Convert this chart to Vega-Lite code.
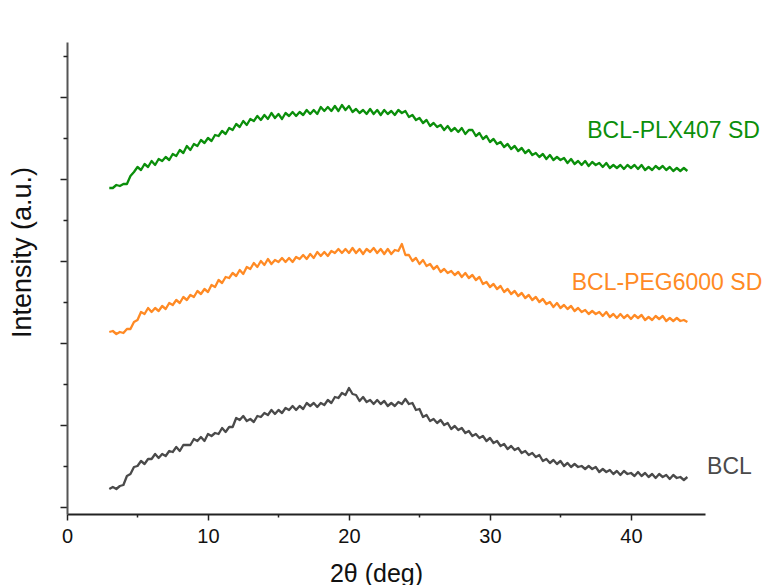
{
"$schema": "https://vega.github.io/schema/vega-lite/v6.json",
"width": 638,
"height": 472,
"autosize": "none",
"padding": {"left": 67, "top": 42, "right": 62, "bottom": 71},
"background": "white",
"config": {"view": {"stroke": null}, "font": "Liberation Sans", "axis": {"grid": false}},
"datasets": {
"labels": [
{"sample": "BCL-PLX407 SD", "theta": 36.9, "intensity": 383},
{"sample": "BCL-PEG6000 SD", "theta": 35.8, "intensity": 231},
{"sample": "BCL", "theta": 45.4, "intensity": 47}
],
"xrd": [
{"sample":"BCL","theta":3,"intensity":25},{"sample":"BCL","theta":3.25,"intensity":27},{"sample":"BCL","theta":3.5,"intensity":25},{"sample":"BCL","theta":3.75,"intensity":28},
{"sample":"BCL","theta":4,"intensity":29},{"sample":"BCL","theta":4.25,"intensity":38},{"sample":"BCL","theta":4.5,"intensity":40},{"sample":"BCL","theta":4.75,"intensity":47},
{"sample":"BCL","theta":5,"intensity":48},{"sample":"BCL","theta":5.25,"intensity":53},{"sample":"BCL","theta":5.5,"intensity":50},{"sample":"BCL","theta":5.75,"intensity":55},
{"sample":"BCL","theta":6,"intensity":55},{"sample":"BCL","theta":6.25,"intensity":60},{"sample":"BCL","theta":6.5,"intensity":56},{"sample":"BCL","theta":6.75,"intensity":60},
{"sample":"BCL","theta":7,"intensity":58},{"sample":"BCL","theta":7.25,"intensity":63},{"sample":"BCL","theta":7.5,"intensity":62},{"sample":"BCL","theta":7.75,"intensity":67},
{"sample":"BCL","theta":8,"intensity":63},{"sample":"BCL","theta":8.25,"intensity":69},{"sample":"BCL","theta":8.5,"intensity":69},{"sample":"BCL","theta":8.75,"intensity":69},
{"sample":"BCL","theta":9,"intensity":75},{"sample":"BCL","theta":9.25,"intensity":73},{"sample":"BCL","theta":9.5,"intensity":77},{"sample":"BCL","theta":9.75,"intensity":73},
{"sample":"BCL","theta":10,"intensity":80},{"sample":"BCL","theta":10.25,"intensity":78},{"sample":"BCL","theta":10.5,"intensity":81},{"sample":"BCL","theta":10.75,"intensity":80},
{"sample":"BCL","theta":11,"intensity":86},{"sample":"BCL","theta":11.25,"intensity":82},{"sample":"BCL","theta":11.5,"intensity":87},{"sample":"BCL","theta":11.75,"intensity":87},
{"sample":"BCL","theta":12,"intensity":96},{"sample":"BCL","theta":12.25,"intensity":94},{"sample":"BCL","theta":12.5,"intensity":98},{"sample":"BCL","theta":12.75,"intensity":93},
{"sample":"BCL","theta":13,"intensity":95},{"sample":"BCL","theta":13.25,"intensity":92},{"sample":"BCL","theta":13.5,"intensity":98},{"sample":"BCL","theta":13.75,"intensity":97},
{"sample":"BCL","theta":14,"intensity":101},{"sample":"BCL","theta":14.25,"intensity":99},{"sample":"BCL","theta":14.5,"intensity":104},{"sample":"BCL","theta":14.75,"intensity":100},
{"sample":"BCL","theta":15,"intensity":104},{"sample":"BCL","theta":15.25,"intensity":101},{"sample":"BCL","theta":15.5,"intensity":106},{"sample":"BCL","theta":15.75,"intensity":104},
{"sample":"BCL","theta":16,"intensity":108},{"sample":"BCL","theta":16.25,"intensity":104},{"sample":"BCL","theta":16.5,"intensity":108},{"sample":"BCL","theta":16.75,"intensity":105},
{"sample":"BCL","theta":17,"intensity":111},{"sample":"BCL","theta":17.25,"intensity":108},{"sample":"BCL","theta":17.5,"intensity":111},{"sample":"BCL","theta":17.75,"intensity":107},
{"sample":"BCL","theta":18,"intensity":111},{"sample":"BCL","theta":18.25,"intensity":109},{"sample":"BCL","theta":18.5,"intensity":114},{"sample":"BCL","theta":18.75,"intensity":111},
{"sample":"BCL","theta":19,"intensity":117},{"sample":"BCL","theta":19.25,"intensity":116},{"sample":"BCL","theta":19.5,"intensity":121},{"sample":"BCL","theta":19.75,"intensity":119},
{"sample":"BCL","theta":20,"intensity":126},{"sample":"BCL","theta":20.25,"intensity":120},{"sample":"BCL","theta":20.5,"intensity":119},{"sample":"BCL","theta":20.75,"intensity":113},
{"sample":"BCL","theta":21,"intensity":117},{"sample":"BCL","theta":21.25,"intensity":112},{"sample":"BCL","theta":21.5,"intensity":114},{"sample":"BCL","theta":21.75,"intensity":110},
{"sample":"BCL","theta":22,"intensity":114},{"sample":"BCL","theta":22.25,"intensity":110},{"sample":"BCL","theta":22.5,"intensity":113},{"sample":"BCL","theta":22.75,"intensity":108},
{"sample":"BCL","theta":23,"intensity":111},{"sample":"BCL","theta":23.25,"intensity":108},{"sample":"BCL","theta":23.5,"intensity":112},{"sample":"BCL","theta":23.75,"intensity":110},
{"sample":"BCL","theta":24,"intensity":115},{"sample":"BCL","theta":24.25,"intensity":110},{"sample":"BCL","theta":24.5,"intensity":111},{"sample":"BCL","theta":24.75,"intensity":104},
{"sample":"BCL","theta":25,"intensity":105},{"sample":"BCL","theta":25.25,"intensity":97},{"sample":"BCL","theta":25.5,"intensity":99},{"sample":"BCL","theta":25.75,"intensity":93},
{"sample":"BCL","theta":26,"intensity":95},{"sample":"BCL","theta":26.25,"intensity":91},{"sample":"BCL","theta":26.5,"intensity":94},{"sample":"BCL","theta":26.75,"intensity":89},
{"sample":"BCL","theta":27,"intensity":91},{"sample":"BCL","theta":27.25,"intensity":85},{"sample":"BCL","theta":27.5,"intensity":88},{"sample":"BCL","theta":27.75,"intensity":84},
{"sample":"BCL","theta":28,"intensity":86},{"sample":"BCL","theta":28.25,"intensity":81},{"sample":"BCL","theta":28.5,"intensity":83},{"sample":"BCL","theta":28.75,"intensity":78},
{"sample":"BCL","theta":29,"intensity":80},{"sample":"BCL","theta":29.25,"intensity":76},{"sample":"BCL","theta":29.5,"intensity":78},{"sample":"BCL","theta":29.75,"intensity":73},
{"sample":"BCL","theta":30,"intensity":76},{"sample":"BCL","theta":30.25,"intensity":71},{"sample":"BCL","theta":30.5,"intensity":73},{"sample":"BCL","theta":30.75,"intensity":68},
{"sample":"BCL","theta":31,"intensity":70},{"sample":"BCL","theta":31.25,"intensity":65},{"sample":"BCL","theta":31.5,"intensity":68},{"sample":"BCL","theta":31.75,"intensity":64},
{"sample":"BCL","theta":32,"intensity":66},{"sample":"BCL","theta":32.25,"intensity":61},{"sample":"BCL","theta":32.5,"intensity":63},{"sample":"BCL","theta":32.75,"intensity":59},
{"sample":"BCL","theta":33,"intensity":61},{"sample":"BCL","theta":33.25,"intensity":57},{"sample":"BCL","theta":33.5,"intensity":59},{"sample":"BCL","theta":33.75,"intensity":53},
{"sample":"BCL","theta":34,"intensity":55},{"sample":"BCL","theta":34.25,"intensity":51},{"sample":"BCL","theta":34.5,"intensity":54},{"sample":"BCL","theta":34.75,"intensity":50},
{"sample":"BCL","theta":35,"intensity":53},{"sample":"BCL","theta":35.25,"intensity":48},{"sample":"BCL","theta":35.5,"intensity":51},{"sample":"BCL","theta":35.75,"intensity":47},
{"sample":"BCL","theta":36,"intensity":50},{"sample":"BCL","theta":36.25,"intensity":47},{"sample":"BCL","theta":36.5,"intensity":48},{"sample":"BCL","theta":36.75,"intensity":45},
{"sample":"BCL","theta":37,"intensity":48},{"sample":"BCL","theta":37.25,"intensity":45},{"sample":"BCL","theta":37.5,"intensity":47},{"sample":"BCL","theta":37.75,"intensity":42},
{"sample":"BCL","theta":38,"intensity":45},{"sample":"BCL","theta":38.25,"intensity":42},{"sample":"BCL","theta":38.5,"intensity":44},{"sample":"BCL","theta":38.75,"intensity":40},
{"sample":"BCL","theta":39,"intensity":43},{"sample":"BCL","theta":39.25,"intensity":39},{"sample":"BCL","theta":39.5,"intensity":43},{"sample":"BCL","theta":39.75,"intensity":40},
{"sample":"BCL","theta":40,"intensity":41},{"sample":"BCL","theta":40.25,"intensity":38},{"sample":"BCL","theta":40.5,"intensity":42},{"sample":"BCL","theta":40.75,"intensity":38},
{"sample":"BCL","theta":41,"intensity":41},{"sample":"BCL","theta":41.25,"intensity":37},{"sample":"BCL","theta":41.5,"intensity":40},{"sample":"BCL","theta":41.75,"intensity":36},
{"sample":"BCL","theta":42,"intensity":40},{"sample":"BCL","theta":42.25,"intensity":37},{"sample":"BCL","theta":42.5,"intensity":39},{"sample":"BCL","theta":42.75,"intensity":35},
{"sample":"BCL","theta":43,"intensity":39},{"sample":"BCL","theta":43.25,"intensity":36},{"sample":"BCL","theta":43.5,"intensity":37},{"sample":"BCL","theta":43.75,"intensity":34},
{"sample":"BCL","theta":44,"intensity":37},
{"sample":"BCL-PEG6000 SD","theta":3,"intensity":182},{"sample":"BCL-PEG6000 SD","theta":3.25,"intensity":183},{"sample":"BCL-PEG6000 SD","theta":3.5,"intensity":180},{"sample":"BCL-PEG6000 SD","theta":3.75,"intensity":182},
{"sample":"BCL-PEG6000 SD","theta":4,"intensity":181},{"sample":"BCL-PEG6000 SD","theta":4.25,"intensity":185},{"sample":"BCL-PEG6000 SD","theta":4.5,"intensity":185},{"sample":"BCL-PEG6000 SD","theta":4.75,"intensity":192},
{"sample":"BCL-PEG6000 SD","theta":5,"intensity":194},{"sample":"BCL-PEG6000 SD","theta":5.25,"intensity":202},{"sample":"BCL-PEG6000 SD","theta":5.5,"intensity":200},{"sample":"BCL-PEG6000 SD","theta":5.75,"intensity":206},
{"sample":"BCL-PEG6000 SD","theta":6,"intensity":202},{"sample":"BCL-PEG6000 SD","theta":6.25,"intensity":206},{"sample":"BCL-PEG6000 SD","theta":6.5,"intensity":203},{"sample":"BCL-PEG6000 SD","theta":6.75,"intensity":208},
{"sample":"BCL-PEG6000 SD","theta":7,"intensity":205},{"sample":"BCL-PEG6000 SD","theta":7.25,"intensity":211},{"sample":"BCL-PEG6000 SD","theta":7.5,"intensity":209},{"sample":"BCL-PEG6000 SD","theta":7.75,"intensity":214},
{"sample":"BCL-PEG6000 SD","theta":8,"intensity":211},{"sample":"BCL-PEG6000 SD","theta":8.25,"intensity":217},{"sample":"BCL-PEG6000 SD","theta":8.5,"intensity":214},{"sample":"BCL-PEG6000 SD","theta":8.75,"intensity":219},
{"sample":"BCL-PEG6000 SD","theta":9,"intensity":217},{"sample":"BCL-PEG6000 SD","theta":9.25,"intensity":223},{"sample":"BCL-PEG6000 SD","theta":9.5,"intensity":220},{"sample":"BCL-PEG6000 SD","theta":9.75,"intensity":225},
{"sample":"BCL-PEG6000 SD","theta":10,"intensity":222},{"sample":"BCL-PEG6000 SD","theta":10.25,"intensity":229},{"sample":"BCL-PEG6000 SD","theta":10.5,"intensity":227},{"sample":"BCL-PEG6000 SD","theta":10.75,"intensity":234},
{"sample":"BCL-PEG6000 SD","theta":11,"intensity":231},{"sample":"BCL-PEG6000 SD","theta":11.25,"intensity":237},{"sample":"BCL-PEG6000 SD","theta":11.5,"intensity":236},{"sample":"BCL-PEG6000 SD","theta":11.75,"intensity":241},
{"sample":"BCL-PEG6000 SD","theta":12,"intensity":238},{"sample":"BCL-PEG6000 SD","theta":12.25,"intensity":244},{"sample":"BCL-PEG6000 SD","theta":12.5,"intensity":240},{"sample":"BCL-PEG6000 SD","theta":12.75,"intensity":247},
{"sample":"BCL-PEG6000 SD","theta":13,"intensity":245},{"sample":"BCL-PEG6000 SD","theta":13.25,"intensity":251},{"sample":"BCL-PEG6000 SD","theta":13.5,"intensity":247},{"sample":"BCL-PEG6000 SD","theta":13.75,"intensity":253},
{"sample":"BCL-PEG6000 SD","theta":14,"intensity":249},{"sample":"BCL-PEG6000 SD","theta":14.25,"intensity":255},{"sample":"BCL-PEG6000 SD","theta":14.5,"intensity":250},{"sample":"BCL-PEG6000 SD","theta":14.75,"intensity":254},
{"sample":"BCL-PEG6000 SD","theta":15,"intensity":252},{"sample":"BCL-PEG6000 SD","theta":15.25,"intensity":256},{"sample":"BCL-PEG6000 SD","theta":15.5,"intensity":252},{"sample":"BCL-PEG6000 SD","theta":15.75,"intensity":256},
{"sample":"BCL-PEG6000 SD","theta":16,"intensity":252},{"sample":"BCL-PEG6000 SD","theta":16.25,"intensity":257},{"sample":"BCL-PEG6000 SD","theta":16.5,"intensity":255},{"sample":"BCL-PEG6000 SD","theta":16.75,"intensity":259},
{"sample":"BCL-PEG6000 SD","theta":17,"intensity":255},{"sample":"BCL-PEG6000 SD","theta":17.25,"intensity":260},{"sample":"BCL-PEG6000 SD","theta":17.5,"intensity":256},{"sample":"BCL-PEG6000 SD","theta":17.75,"intensity":262},
{"sample":"BCL-PEG6000 SD","theta":18,"intensity":258},{"sample":"BCL-PEG6000 SD","theta":18.25,"intensity":262},{"sample":"BCL-PEG6000 SD","theta":18.5,"intensity":258},{"sample":"BCL-PEG6000 SD","theta":18.75,"intensity":263},
{"sample":"BCL-PEG6000 SD","theta":19,"intensity":261},{"sample":"BCL-PEG6000 SD","theta":19.25,"intensity":265},{"sample":"BCL-PEG6000 SD","theta":19.5,"intensity":261},{"sample":"BCL-PEG6000 SD","theta":19.75,"intensity":265},
{"sample":"BCL-PEG6000 SD","theta":20,"intensity":261},{"sample":"BCL-PEG6000 SD","theta":20.25,"intensity":266},{"sample":"BCL-PEG6000 SD","theta":20.5,"intensity":261},{"sample":"BCL-PEG6000 SD","theta":20.75,"intensity":265},
{"sample":"BCL-PEG6000 SD","theta":21,"intensity":260},{"sample":"BCL-PEG6000 SD","theta":21.25,"intensity":265},{"sample":"BCL-PEG6000 SD","theta":21.5,"intensity":262},{"sample":"BCL-PEG6000 SD","theta":21.75,"intensity":266},
{"sample":"BCL-PEG6000 SD","theta":22,"intensity":261},{"sample":"BCL-PEG6000 SD","theta":22.25,"intensity":265},{"sample":"BCL-PEG6000 SD","theta":22.5,"intensity":260},{"sample":"BCL-PEG6000 SD","theta":22.75,"intensity":265},
{"sample":"BCL-PEG6000 SD","theta":23,"intensity":260},{"sample":"BCL-PEG6000 SD","theta":23.25,"intensity":264},{"sample":"BCL-PEG6000 SD","theta":23.5,"intensity":263},{"sample":"BCL-PEG6000 SD","theta":23.75,"intensity":270},
{"sample":"BCL-PEG6000 SD","theta":24,"intensity":259},{"sample":"BCL-PEG6000 SD","theta":24.25,"intensity":259},{"sample":"BCL-PEG6000 SD","theta":24.5,"intensity":253},{"sample":"BCL-PEG6000 SD","theta":24.75,"intensity":256},
{"sample":"BCL-PEG6000 SD","theta":25,"intensity":250},{"sample":"BCL-PEG6000 SD","theta":25.25,"intensity":254},{"sample":"BCL-PEG6000 SD","theta":25.5,"intensity":248},{"sample":"BCL-PEG6000 SD","theta":25.75,"intensity":250},
{"sample":"BCL-PEG6000 SD","theta":26,"intensity":245},{"sample":"BCL-PEG6000 SD","theta":26.25,"intensity":248},{"sample":"BCL-PEG6000 SD","theta":26.5,"intensity":242},{"sample":"BCL-PEG6000 SD","theta":26.75,"intensity":245},
{"sample":"BCL-PEG6000 SD","theta":27,"intensity":241},{"sample":"BCL-PEG6000 SD","theta":27.25,"intensity":243},{"sample":"BCL-PEG6000 SD","theta":27.5,"intensity":239},{"sample":"BCL-PEG6000 SD","theta":27.75,"intensity":242},
{"sample":"BCL-PEG6000 SD","theta":28,"intensity":237},{"sample":"BCL-PEG6000 SD","theta":28.25,"intensity":241},{"sample":"BCL-PEG6000 SD","theta":28.5,"intensity":236},{"sample":"BCL-PEG6000 SD","theta":28.75,"intensity":239},
{"sample":"BCL-PEG6000 SD","theta":29,"intensity":234},{"sample":"BCL-PEG6000 SD","theta":29.25,"intensity":237},{"sample":"BCL-PEG6000 SD","theta":29.5,"intensity":230},{"sample":"BCL-PEG6000 SD","theta":29.75,"intensity":232},
{"sample":"BCL-PEG6000 SD","theta":30,"intensity":227},{"sample":"BCL-PEG6000 SD","theta":30.25,"intensity":230},{"sample":"BCL-PEG6000 SD","theta":30.5,"intensity":225},{"sample":"BCL-PEG6000 SD","theta":30.75,"intensity":228},
{"sample":"BCL-PEG6000 SD","theta":31,"intensity":222},{"sample":"BCL-PEG6000 SD","theta":31.25,"intensity":225},{"sample":"BCL-PEG6000 SD","theta":31.5,"intensity":220},{"sample":"BCL-PEG6000 SD","theta":31.75,"intensity":223},
{"sample":"BCL-PEG6000 SD","theta":32,"intensity":218},{"sample":"BCL-PEG6000 SD","theta":32.25,"intensity":221},{"sample":"BCL-PEG6000 SD","theta":32.5,"intensity":216},{"sample":"BCL-PEG6000 SD","theta":32.75,"intensity":219},
{"sample":"BCL-PEG6000 SD","theta":33,"intensity":214},{"sample":"BCL-PEG6000 SD","theta":33.25,"intensity":217},{"sample":"BCL-PEG6000 SD","theta":33.5,"intensity":212},{"sample":"BCL-PEG6000 SD","theta":33.75,"intensity":215},
{"sample":"BCL-PEG6000 SD","theta":34,"intensity":210},{"sample":"BCL-PEG6000 SD","theta":34.25,"intensity":212},{"sample":"BCL-PEG6000 SD","theta":34.5,"intensity":207},{"sample":"BCL-PEG6000 SD","theta":34.75,"intensity":211},
{"sample":"BCL-PEG6000 SD","theta":35,"intensity":206},{"sample":"BCL-PEG6000 SD","theta":35.25,"intensity":209},{"sample":"BCL-PEG6000 SD","theta":35.5,"intensity":205},{"sample":"BCL-PEG6000 SD","theta":35.75,"intensity":208},
{"sample":"BCL-PEG6000 SD","theta":36,"intensity":203},{"sample":"BCL-PEG6000 SD","theta":36.25,"intensity":206},{"sample":"BCL-PEG6000 SD","theta":36.5,"intensity":202},{"sample":"BCL-PEG6000 SD","theta":36.75,"intensity":204},
{"sample":"BCL-PEG6000 SD","theta":37,"intensity":200},{"sample":"BCL-PEG6000 SD","theta":37.25,"intensity":203},{"sample":"BCL-PEG6000 SD","theta":37.5,"intensity":200},{"sample":"BCL-PEG6000 SD","theta":37.75,"intensity":202},
{"sample":"BCL-PEG6000 SD","theta":38,"intensity":198},{"sample":"BCL-PEG6000 SD","theta":38.25,"intensity":202},{"sample":"BCL-PEG6000 SD","theta":38.5,"intensity":197},{"sample":"BCL-PEG6000 SD","theta":38.75,"intensity":200},
{"sample":"BCL-PEG6000 SD","theta":39,"intensity":196},{"sample":"BCL-PEG6000 SD","theta":39.25,"intensity":200},{"sample":"BCL-PEG6000 SD","theta":39.5,"intensity":196},{"sample":"BCL-PEG6000 SD","theta":39.75,"intensity":199},
{"sample":"BCL-PEG6000 SD","theta":40,"intensity":195},{"sample":"BCL-PEG6000 SD","theta":40.25,"intensity":199},{"sample":"BCL-PEG6000 SD","theta":40.5,"intensity":196},{"sample":"BCL-PEG6000 SD","theta":40.75,"intensity":199},
{"sample":"BCL-PEG6000 SD","theta":41,"intensity":194},{"sample":"BCL-PEG6000 SD","theta":41.25,"intensity":197},{"sample":"BCL-PEG6000 SD","theta":41.5,"intensity":194},{"sample":"BCL-PEG6000 SD","theta":41.75,"intensity":198},
{"sample":"BCL-PEG6000 SD","theta":42,"intensity":195},{"sample":"BCL-PEG6000 SD","theta":42.25,"intensity":198},{"sample":"BCL-PEG6000 SD","theta":42.5,"intensity":193},{"sample":"BCL-PEG6000 SD","theta":42.75,"intensity":196},
{"sample":"BCL-PEG6000 SD","theta":43,"intensity":193},{"sample":"BCL-PEG6000 SD","theta":43.25,"intensity":196},{"sample":"BCL-PEG6000 SD","theta":43.5,"intensity":193},{"sample":"BCL-PEG6000 SD","theta":43.75,"intensity":194},
{"sample":"BCL-PEG6000 SD","theta":44,"intensity":192},
{"sample":"BCL-PLX407 SD","theta":3,"intensity":326},{"sample":"BCL-PLX407 SD","theta":3.25,"intensity":326},{"sample":"BCL-PLX407 SD","theta":3.5,"intensity":329},{"sample":"BCL-PLX407 SD","theta":3.75,"intensity":328},
{"sample":"BCL-PLX407 SD","theta":4,"intensity":330},{"sample":"BCL-PLX407 SD","theta":4.25,"intensity":330},{"sample":"BCL-PLX407 SD","theta":4.5,"intensity":338},{"sample":"BCL-PLX407 SD","theta":4.75,"intensity":342},
{"sample":"BCL-PLX407 SD","theta":5,"intensity":347},{"sample":"BCL-PLX407 SD","theta":5.25,"intensity":344},{"sample":"BCL-PLX407 SD","theta":5.5,"intensity":350},{"sample":"BCL-PLX407 SD","theta":5.75,"intensity":347},
{"sample":"BCL-PLX407 SD","theta":6,"intensity":353},{"sample":"BCL-PLX407 SD","theta":6.25,"intensity":349},{"sample":"BCL-PLX407 SD","theta":6.5,"intensity":355},{"sample":"BCL-PLX407 SD","theta":6.75,"intensity":353},
{"sample":"BCL-PLX407 SD","theta":7,"intensity":357},{"sample":"BCL-PLX407 SD","theta":7.25,"intensity":354},{"sample":"BCL-PLX407 SD","theta":7.5,"intensity":360},{"sample":"BCL-PLX407 SD","theta":7.75,"intensity":358},
{"sample":"BCL-PLX407 SD","theta":8,"intensity":364},{"sample":"BCL-PLX407 SD","theta":8.25,"intensity":361},{"sample":"BCL-PLX407 SD","theta":8.5,"intensity":368},{"sample":"BCL-PLX407 SD","theta":8.75,"intensity":364},
{"sample":"BCL-PLX407 SD","theta":9,"intensity":370},{"sample":"BCL-PLX407 SD","theta":9.25,"intensity":368},{"sample":"BCL-PLX407 SD","theta":9.5,"intensity":374},{"sample":"BCL-PLX407 SD","theta":9.75,"intensity":371},
{"sample":"BCL-PLX407 SD","theta":10,"intensity":376},{"sample":"BCL-PLX407 SD","theta":10.25,"intensity":373},{"sample":"BCL-PLX407 SD","theta":10.5,"intensity":379},{"sample":"BCL-PLX407 SD","theta":10.75,"intensity":378},
{"sample":"BCL-PLX407 SD","theta":11,"intensity":383},{"sample":"BCL-PLX407 SD","theta":11.25,"intensity":380},{"sample":"BCL-PLX407 SD","theta":11.5,"intensity":386},{"sample":"BCL-PLX407 SD","theta":11.75,"intensity":384},
{"sample":"BCL-PLX407 SD","theta":12,"intensity":390},{"sample":"BCL-PLX407 SD","theta":12.25,"intensity":387},{"sample":"BCL-PLX407 SD","theta":12.5,"intensity":393},{"sample":"BCL-PLX407 SD","theta":12.75,"intensity":389},
{"sample":"BCL-PLX407 SD","theta":13,"intensity":395},{"sample":"BCL-PLX407 SD","theta":13.25,"intensity":393},{"sample":"BCL-PLX407 SD","theta":13.5,"intensity":398},{"sample":"BCL-PLX407 SD","theta":13.75,"intensity":394},
{"sample":"BCL-PLX407 SD","theta":14,"intensity":399},{"sample":"BCL-PLX407 SD","theta":14.25,"intensity":395},{"sample":"BCL-PLX407 SD","theta":14.5,"intensity":401},{"sample":"BCL-PLX407 SD","theta":14.75,"intensity":396},
{"sample":"BCL-PLX407 SD","theta":15,"intensity":400},{"sample":"BCL-PLX407 SD","theta":15.25,"intensity":395},{"sample":"BCL-PLX407 SD","theta":15.5,"intensity":401},{"sample":"BCL-PLX407 SD","theta":15.75,"intensity":398},
{"sample":"BCL-PLX407 SD","theta":16,"intensity":402},{"sample":"BCL-PLX407 SD","theta":16.25,"intensity":398},{"sample":"BCL-PLX407 SD","theta":16.5,"intensity":402},{"sample":"BCL-PLX407 SD","theta":16.75,"intensity":399},
{"sample":"BCL-PLX407 SD","theta":17,"intensity":404},{"sample":"BCL-PLX407 SD","theta":17.25,"intensity":400},{"sample":"BCL-PLX407 SD","theta":17.5,"intensity":404},{"sample":"BCL-PLX407 SD","theta":17.75,"intensity":400},
{"sample":"BCL-PLX407 SD","theta":18,"intensity":407},{"sample":"BCL-PLX407 SD","theta":18.25,"intensity":403},{"sample":"BCL-PLX407 SD","theta":18.5,"intensity":407},{"sample":"BCL-PLX407 SD","theta":18.75,"intensity":403},
{"sample":"BCL-PLX407 SD","theta":19,"intensity":408},{"sample":"BCL-PLX407 SD","theta":19.25,"intensity":403},{"sample":"BCL-PLX407 SD","theta":19.5,"intensity":409},{"sample":"BCL-PLX407 SD","theta":19.75,"intensity":404},
{"sample":"BCL-PLX407 SD","theta":20,"intensity":408},{"sample":"BCL-PLX407 SD","theta":20.25,"intensity":402},{"sample":"BCL-PLX407 SD","theta":20.5,"intensity":405},{"sample":"BCL-PLX407 SD","theta":20.75,"intensity":401},
{"sample":"BCL-PLX407 SD","theta":21,"intensity":404},{"sample":"BCL-PLX407 SD","theta":21.25,"intensity":400},{"sample":"BCL-PLX407 SD","theta":21.5,"intensity":405},{"sample":"BCL-PLX407 SD","theta":21.75,"intensity":400},
{"sample":"BCL-PLX407 SD","theta":22,"intensity":404},{"sample":"BCL-PLX407 SD","theta":22.25,"intensity":399},{"sample":"BCL-PLX407 SD","theta":22.5,"intensity":404},{"sample":"BCL-PLX407 SD","theta":22.75,"intensity":400},
{"sample":"BCL-PLX407 SD","theta":23,"intensity":403},{"sample":"BCL-PLX407 SD","theta":23.25,"intensity":399},{"sample":"BCL-PLX407 SD","theta":23.5,"intensity":404},{"sample":"BCL-PLX407 SD","theta":23.75,"intensity":401},
{"sample":"BCL-PLX407 SD","theta":24,"intensity":403},{"sample":"BCL-PLX407 SD","theta":24.25,"intensity":397},{"sample":"BCL-PLX407 SD","theta":24.5,"intensity":399},{"sample":"BCL-PLX407 SD","theta":24.75,"intensity":394},
{"sample":"BCL-PLX407 SD","theta":25,"intensity":396},{"sample":"BCL-PLX407 SD","theta":25.25,"intensity":391},{"sample":"BCL-PLX407 SD","theta":25.5,"intensity":394},{"sample":"BCL-PLX407 SD","theta":25.75,"intensity":388},
{"sample":"BCL-PLX407 SD","theta":26,"intensity":391},{"sample":"BCL-PLX407 SD","theta":26.25,"intensity":387},{"sample":"BCL-PLX407 SD","theta":26.5,"intensity":389},{"sample":"BCL-PLX407 SD","theta":26.75,"intensity":384},
{"sample":"BCL-PLX407 SD","theta":27,"intensity":388},{"sample":"BCL-PLX407 SD","theta":27.25,"intensity":383},{"sample":"BCL-PLX407 SD","theta":27.5,"intensity":386},{"sample":"BCL-PLX407 SD","theta":27.75,"intensity":382},
{"sample":"BCL-PLX407 SD","theta":28,"intensity":386},{"sample":"BCL-PLX407 SD","theta":28.25,"intensity":380},{"sample":"BCL-PLX407 SD","theta":28.5,"intensity":384},{"sample":"BCL-PLX407 SD","theta":28.75,"intensity":384},
{"sample":"BCL-PLX407 SD","theta":29,"intensity":378},{"sample":"BCL-PLX407 SD","theta":29.25,"intensity":381},{"sample":"BCL-PLX407 SD","theta":29.5,"intensity":375},{"sample":"BCL-PLX407 SD","theta":29.75,"intensity":378},
{"sample":"BCL-PLX407 SD","theta":30,"intensity":372},{"sample":"BCL-PLX407 SD","theta":30.25,"intensity":375},{"sample":"BCL-PLX407 SD","theta":30.5,"intensity":370},{"sample":"BCL-PLX407 SD","theta":30.75,"intensity":372},
{"sample":"BCL-PLX407 SD","theta":31,"intensity":367},{"sample":"BCL-PLX407 SD","theta":31.25,"intensity":370},{"sample":"BCL-PLX407 SD","theta":31.5,"intensity":365},{"sample":"BCL-PLX407 SD","theta":31.75,"intensity":368},
{"sample":"BCL-PLX407 SD","theta":32,"intensity":363},{"sample":"BCL-PLX407 SD","theta":32.25,"intensity":366},{"sample":"BCL-PLX407 SD","theta":32.5,"intensity":361},{"sample":"BCL-PLX407 SD","theta":32.75,"intensity":364},
{"sample":"BCL-PLX407 SD","theta":33,"intensity":359},{"sample":"BCL-PLX407 SD","theta":33.25,"intensity":361},{"sample":"BCL-PLX407 SD","theta":33.5,"intensity":357},{"sample":"BCL-PLX407 SD","theta":33.75,"intensity":360},
{"sample":"BCL-PLX407 SD","theta":34,"intensity":355},{"sample":"BCL-PLX407 SD","theta":34.25,"intensity":359},{"sample":"BCL-PLX407 SD","theta":34.5,"intensity":354},{"sample":"BCL-PLX407 SD","theta":34.75,"intensity":357},
{"sample":"BCL-PLX407 SD","theta":35,"intensity":354},{"sample":"BCL-PLX407 SD","theta":35.25,"intensity":356},{"sample":"BCL-PLX407 SD","theta":35.5,"intensity":351},{"sample":"BCL-PLX407 SD","theta":35.75,"intensity":355},
{"sample":"BCL-PLX407 SD","theta":36,"intensity":350},{"sample":"BCL-PLX407 SD","theta":36.25,"intensity":353},{"sample":"BCL-PLX407 SD","theta":36.5,"intensity":349},{"sample":"BCL-PLX407 SD","theta":36.75,"intensity":353},
{"sample":"BCL-PLX407 SD","theta":37,"intensity":348},{"sample":"BCL-PLX407 SD","theta":37.25,"intensity":352},{"sample":"BCL-PLX407 SD","theta":37.5,"intensity":349},{"sample":"BCL-PLX407 SD","theta":37.75,"intensity":351},
{"sample":"BCL-PLX407 SD","theta":38,"intensity":347},{"sample":"BCL-PLX407 SD","theta":38.25,"intensity":351},{"sample":"BCL-PLX407 SD","theta":38.5,"intensity":346},{"sample":"BCL-PLX407 SD","theta":38.75,"intensity":349},
{"sample":"BCL-PLX407 SD","theta":39,"intensity":346},{"sample":"BCL-PLX407 SD","theta":39.25,"intensity":349},{"sample":"BCL-PLX407 SD","theta":39.5,"intensity":345},{"sample":"BCL-PLX407 SD","theta":39.75,"intensity":349},
{"sample":"BCL-PLX407 SD","theta":40,"intensity":346},{"sample":"BCL-PLX407 SD","theta":40.25,"intensity":349},{"sample":"BCL-PLX407 SD","theta":40.5,"intensity":345},{"sample":"BCL-PLX407 SD","theta":40.75,"intensity":349},
{"sample":"BCL-PLX407 SD","theta":41,"intensity":344},{"sample":"BCL-PLX407 SD","theta":41.25,"intensity":347},{"sample":"BCL-PLX407 SD","theta":41.5,"intensity":344},{"sample":"BCL-PLX407 SD","theta":41.75,"intensity":348},
{"sample":"BCL-PLX407 SD","theta":42,"intensity":345},{"sample":"BCL-PLX407 SD","theta":42.25,"intensity":348},{"sample":"BCL-PLX407 SD","theta":42.5,"intensity":344},{"sample":"BCL-PLX407 SD","theta":42.75,"intensity":347},
{"sample":"BCL-PLX407 SD","theta":43,"intensity":343},{"sample":"BCL-PLX407 SD","theta":43.25,"intensity":346},{"sample":"BCL-PLX407 SD","theta":43.5,"intensity":343},{"sample":"BCL-PLX407 SD","theta":43.75,"intensity":346},
{"sample":"BCL-PLX407 SD","theta":44,"intensity":343}
]
},
"layer": [
{
"data": {"name": "xrd"},
"mark": {"type": "line", "strokeWidth": 2.3, "strokeJoin": "round"},
"encoding": {
"x": {"field": "theta", "type": "quantitative",
"scale": {"domain": [0, 45.25], "nice": false, "zero": false},
"axis": {"values": [0, 10, 20, 30, 40], "format": "d", "title": "2θ (deg)", "orient": "bottom",
"tickSize": 6, "tickWidth": 1.5, "tickColor": "#222", "domainColor": "#222", "domainWidth": 2,
"labelFontSize": 20, "labelColor": "#111", "labelPadding": 6, "labelFlush": false,
"titleFontSize": 25, "titleFontWeight": "normal", "titleColor": "#111", "titleX": 309, "titleY": 47}},
"y": {"field": "intensity", "type": "quantitative",
"scale": {"domain": [0, 472], "nice": false, "zero": false},
"axis": {"values": [7, 89, 171, 253, 335, 417], "labels": false, "title": "Intensity (a.u.)", "orient": "left",
"tickSize": 7, "tickWidth": 1.5, "tickColor": "#222", "domainColor": "#555", "domainWidth": 2,
"titleFontSize": 27, "titleFontWeight": "normal", "titleColor": "#111", "titleX": -31, "titleY": 210}},
"color": {"field": "sample", "type": "nominal",
"scale": {"domain": ["BCL", "BCL-PEG6000 SD", "BCL-PLX407 SD"], "range": ["#4a4a4a", "#ff8a24", "#0b8f0b"]},
"legend": null}
}
},
{
"data": {"name": "labels"},
"mark": {"type": "text", "align": "left", "baseline": "middle", "fontSize": 23},
"encoding": {
"x": {"field": "theta", "type": "quantitative",
"axis": {"values": [5, 15, 25, 35], "labels": false, "title": null, "orient": "bottom", "domain": false,
"tickSize": 3, "tickWidth": 1.5, "tickColor": "#222"}},
"y": {"field": "intensity", "type": "quantitative",
"axis": {"values": [48, 130, 212, 294, 376, 458], "labels": false, "title": null, "orient": "left", "domain": false,
"tickSize": 4, "tickWidth": 1.5, "tickColor": "#222"}},
"text": {"field": "sample"},
"color": {"field": "sample", "type": "nominal", "legend": null}
}
}
],
"resolve": {"axis": {"x": "independent", "y": "independent"}}
}
